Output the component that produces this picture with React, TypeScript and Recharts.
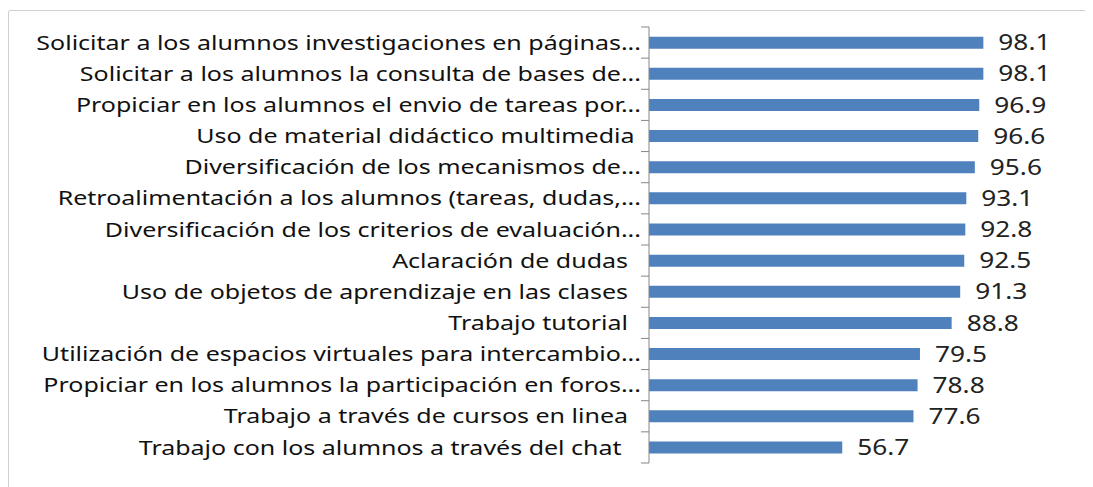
import React from 'react';
import { BarChart, Bar, XAxis, YAxis, LabelList } from 'recharts';

const categorias = [
  'Solicitar a los alumnos investigaciones en páginas...',
  'Solicitar a los alumnos la consulta de bases de...',
  'Propiciar en los alumnos el envio de tareas por...',
  'Uso de material didáctico multimedia\u00a0',
  'Diversificación de los mecanismos de...',
  'Retroalimentación a los alumnos (tareas, dudas,...',
  'Diversificación de los criterios de evaluación...',
  'Aclaración de dudas\u00a0\u00a0',
  'Uso de objetos de aprendizaje en las clases\u00a0\u00a0',
  'Trabajo tutorial\u00a0\u00a0',
  'Utilización de espacios virtuales para intercambio...',
  'Propiciar en los alumnos la participación en foros...',
  'Trabajo a través de cursos en linea\u00a0\u00a0',
  'Trabajo con los alumnos a través del chat\u00a0\u00a0\u00a0',
];
const valores = [98.1, 98.1, 96.9, 96.6, 95.6, 93.1, 92.8, 92.5, 91.3, 88.8, 79.5, 78.8, 77.6, 56.7];

const data = categorias.map((c, i) => ({ name: c, value: valores[i] }));

const W = 1088;
const H = 478;
const MARGIN = { top: 16, right: 39, bottom: 26, left: 0 };
const YAXIS_W = 640;
const BAND = (H - MARGIN.top - MARGIN.bottom) / categorias.length;
const FONT = '"Noto Sans", sans-serif';
const STRETCH = 1.25;

const CategoryTick = (props: any) => {
  const { x, y, payload, index } = props;
  const top = y - BAND / 2;
  const tx = x - 8;
  return (
    <g>
      <line x1={x - 8} x2={x} y1={top} y2={top} stroke="#868686" />
      {index === categorias.length - 1 && (
        <line x1={x - 8} x2={x} y1={y + BAND / 2} y2={y + BAND / 2} stroke="#868686" />
      )}
      <text
        x={0}
        y={0}
        dy="0.36em"
        textAnchor="end"
        fill="#111"
        fontSize={20}
        fontFamily={FONT}
        transform={`translate(${tx},${y}) scale(${STRETCH},1)`}
        style={{ whiteSpace: 'pre' }}
      >
        {payload.value}
      </text>
    </g>
  );
};

const ValueLabel = (props: any) => {
  const { x, y, width, height, value } = props;
  const tx = x + width + 15;
  const ty = y + height / 2;
  return (
    <text
      x={0}
      y={0}
      dy="0.36em"
      fill="#222"
      fontSize={21}
      fontFamily={FONT}
      transform={`translate(${tx},${ty}) scale(${STRETCH},1)`}
    >
      {Number(value).toFixed(1)}
    </text>
  );
};

export default function App() {
  return (
    <div style={{ marginTop: 2, width: W + 20, height: H, border: '1px solid #d0d0d0', borderRadius: 2, background: '#fff' }}>
      <BarChart width={W} height={H} data={data} layout="vertical" margin={MARGIN} barCategoryGap="31%">
        <XAxis type="number" domain={[0, 120]} hide />
        <YAxis
          type="category"
          dataKey="name"
          width={YAXIS_W}
          axisLine={{ stroke: '#868686' }}
          tickLine={false}
          tickSize={0}
          tickMargin={0}
          interval={0}
          tick={<CategoryTick />}
        />
        <Bar dataKey="value" fill="#4F81BD" isAnimationActive={false}>
          <LabelList dataKey="value" content={<ValueLabel />} />
        </Bar>
      </BarChart>
    </div>
  );
}
